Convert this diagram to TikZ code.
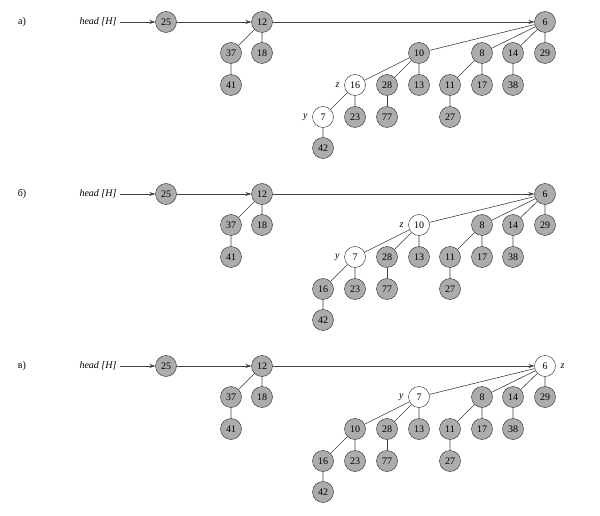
\documentclass[tikz,border=0pt]{standalone}
\usepackage{fontspec}
\setmainfont{Liberation Serif}
\usetikzlibrary{arrows.meta}
\begin{document}
\begin{tikzpicture}[x=1pt,y=-1pt,
  hn/.style={circle,draw=black!85,fill=gray!65,minimum size=21pt,inner sep=0pt,font=\fontsize{10}{10}\selectfont},
  wn/.style={circle,draw=black!85,fill=white,minimum size=21pt,inner sep=0pt,font=\fontsize{10}{10}\selectfont},
  ed/.style={draw=black!75,line width=0.6pt},
  ar/.style={draw=black!75,line width=0.6pt,-{Stealth[length=6pt,width=4pt]}},
  lb/.style={font=\fontsize{10}{10}\selectfont}]
\useasboundingbox (0,0) rectangle (600,516);
\foreach \p/\dy/\lab in {a/0/а), b/172/б), c/344/в)}{
\begin{scope}[yshift=-\dy pt]
  \node[lb] (\p lab) at (22,22) {\lab};
  \node[lb,anchor=east] (\p head) at (120,22) {\itshape head [H]};
  \node[hn] (\p25) at (166,22) {25};
  \node[hn] (\p12) at (262,22) {12};
  \node[hn] (\p37) at (231,53) {37};
  \node[hn] (\p18) at (262,53) {18};
  \node[hn] (\p41) at (231,85) {41};
  \node[hn] (\p8) at (482,53) {8};
  \node[hn] (\p14) at (513,53) {14};
  \node[hn] (\p29) at (545,53) {29};
  \node[hn] (\p11) at (450,85) {11};
  \node[hn] (\p17) at (482,85) {17};
  \node[hn] (\p38) at (513,85) {38};
  \node[hn] (\p27) at (450,117) {27};
  \node[hn] (\p28) at (387,85) {28};
  \node[hn] (\p13) at (419,85) {13};
  \node[hn] (\p23) at (355,117) {23};
  \node[hn] (\p77) at (387,117) {77};
  \node[hn] (\p42) at (323,148) {42};
  \draw[ar] (\p head) -- (\p25);
  \draw[ar] (\p25) -- (\p12);
  \draw[ed] (\p12) -- (\p37) (\p12) -- (\p18) (\p37) -- (\p41);
  \draw[ed] (\p8) -- (\p11) (\p8) -- (\p17) (\p11) -- (\p27) (\p14) -- (\p38);
  \draw[ed] (\p28) -- (\p77);
\end{scope}}
% panel a
\node[hn] (a6) at (545,22) {6};
\node[hn] (a10) at (419,53) {10};
\node[wn] (a16) at (355,85) {16};
\node[wn] (a7) at (323,117) {7};
\node[lb,anchor=east] (az) at (343,85) {\itshape z};
\node[lb,anchor=east] (ay) at (311,117) {\itshape y};
\draw[ar] (a12) -- (a6);
\draw[ed] (a6) -- (a10) (a6) -- (a8) (a6) -- (a14) (a6) -- (a29);
\draw[ed] (a10) -- (a16) (a10) -- (a28) (a10) -- (a13);
\draw[ed] (a16) -- (a7) (a16) -- (a23) (a7) -- (a42);
% panel b
\node[hn] (b6) at (545,194) {6};
\node[wn] (b10) at (419,225) {10};
\node[wn] (b7) at (355,257) {7};
\node[hn] (b16) at (323,289) {16};
\node[lb,anchor=east] (bz) at (407,225) {\itshape z};
\node[lb,anchor=east] (by) at (343,257) {\itshape y};
\draw[ar] (b12) -- (b6);
\draw[ed] (b6) -- (b10) (b6) -- (b8) (b6) -- (b14) (b6) -- (b29);
\draw[ed] (b10) -- (b7) (b10) -- (b28) (b10) -- (b13);
\draw[ed] (b7) -- (b16) (b7) -- (b23) (b16) -- (b42);
% panel c
\node[wn] (c6) at (545,366) {6};
\node[wn] (c7) at (419,397) {7};
\node[hn] (c10) at (355,429) {10};
\node[hn] (c16) at (323,461) {16};
\node[lb,anchor=west] (cz) at (557,366) {\itshape z};
\node[lb,anchor=east] (cy) at (407,397) {\itshape y};
\draw[ar] (c12) -- (c6);
\draw[ed] (c6) -- (c7) (c6) -- (c8) (c6) -- (c14) (c6) -- (c29);
\draw[ed] (c7) -- (c10) (c7) -- (c28) (c7) -- (c13);
\draw[ed] (c10) -- (c16) (c10) -- (c23) (c16) -- (c42);
\end{tikzpicture}
\end{document}
